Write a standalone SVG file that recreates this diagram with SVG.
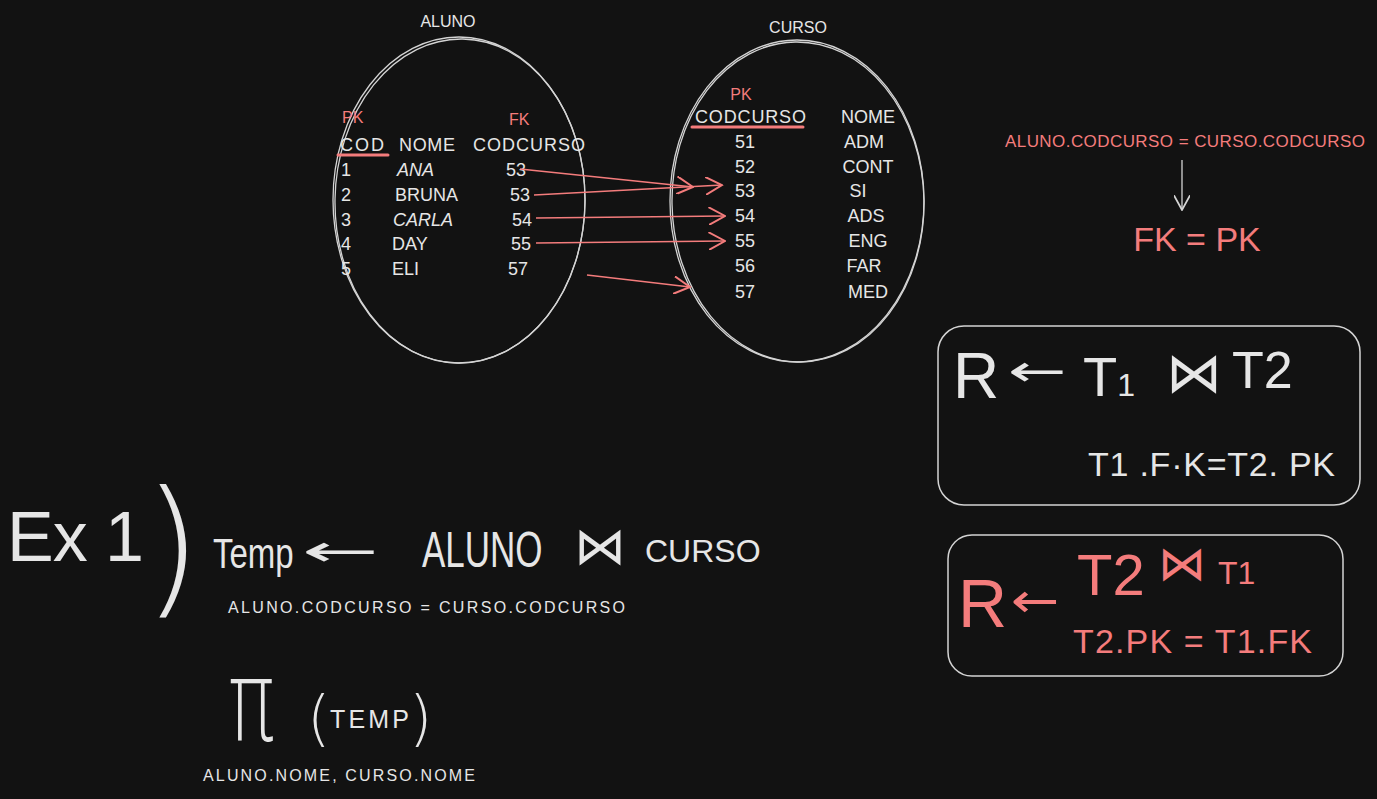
<svg xmlns="http://www.w3.org/2000/svg" width="1377" height="799" viewBox="0 0 1377 799">
<defs>
<style>
.w{fill:#e6e6e6;font-family:"Liberation Sans",Arial,sans-serif}
.r{fill:#f47c7c;font-family:"Liberation Sans",Arial,sans-serif}
.dj{font-family:"DejaVu Sans",sans-serif}
.lt{font-weight:200}
.t18{font-size:18px}
.t16{font-size:16px}
.sk{fill:none;stroke:#d4d4d4;stroke-width:1.3}
.box{fill:none;stroke:#d4d4d4;stroke-width:1.5}
.ra{fill:none;stroke:#f47c7c;stroke-width:1.4}
</style>
<marker id="ah" viewBox="0 0 12 12" refX="11" refY="6" markerWidth="18" markerHeight="18" markerUnits="userSpaceOnUse" orient="auto">
<path d="M0,0 L11,6 L0,12" fill="none" stroke="#f47c7c" stroke-width="1.3"/>
</marker>
<marker id="ahw" viewBox="0 0 12 12" refX="11" refY="6" markerWidth="16" markerHeight="16" markerUnits="userSpaceOnUse" orient="auto">
<path d="M0,0 L11,6 L0,12" fill="none" stroke="#d4d4d4" stroke-width="1.3"/>
</marker>
</defs>
<rect width="1377" height="799" fill="#121212"/>

<g id="aluno">
<ellipse class="sk" cx="459" cy="200" rx="126" ry="163"/>
<ellipse class="sk" cx="460" cy="201" rx="125" ry="162" transform="rotate(1 460 201)"/>
<text class="w t16" x="448" y="27" text-anchor="middle">ALUNO</text>
<text class="r t16" x="342" y="123">PK</text>
<text class="r t16" x="509" y="125">FK</text>
<text class="w t18" x="340" y="151" textLength="44">COD</text>
<line x1="338" y1="155" x2="388" y2="155" stroke="#f47c7c" stroke-width="3" stroke-linecap="round"/>
<text class="w t18" x="399" y="151" textLength="56">NOME</text>
<text class="w t18" x="473" y="151" textLength="112">CODCURSO</text>
<text class="w t18" x="341" y="176">1</text>
<text class="w t18" x="397" y="176" font-style="italic">ANA</text>
<text class="w t18" x="506" y="176">53</text>
<text class="w t18" x="341" y="201">2</text>
<text class="w t18" x="395" y="201">BRUNA</text>
<text class="w t18" x="510" y="201">53</text>
<text class="w t18" x="341" y="226">3</text>
<text class="w t18" x="393" y="226" font-style="italic">CARLA</text>
<text class="w t18" x="512" y="226">54</text>
<text class="w t18" x="341" y="250">4</text>
<text class="w t18" x="392" y="250">DAY</text>
<text class="w t18" x="511" y="250">55</text>
<text class="w t18" x="341" y="275">5</text>
<text class="w t18" x="392" y="275">ELI</text>
<text class="w t18" x="508" y="275">57</text>
</g>

<g id="curso">
<ellipse class="sk" cx="797" cy="201" rx="127" ry="161"/>
<ellipse class="sk" cx="798" cy="202" rx="126" ry="160" transform="rotate(-1 798 202)"/>
<text class="w t16" x="798" y="33" text-anchor="middle">CURSO</text>
<text class="r t16" x="741" y="100" text-anchor="middle">PK</text>
<text class="w t18" x="695" y="123" textLength="111">CODCURSO</text>
<line x1="692" y1="127" x2="803" y2="127" stroke="#f47c7c" stroke-width="3" stroke-linecap="round"/>
<text class="w t18" x="868" y="123" text-anchor="middle">NOME</text>
<text class="w t18" x="745" y="148" text-anchor="middle">51</text>
<text class="w t18" x="745" y="173" text-anchor="middle">52</text>
<text class="w t18" x="745" y="197" text-anchor="middle">53</text>
<text class="w t18" x="745" y="222" text-anchor="middle">54</text>
<text class="w t18" x="745" y="247" text-anchor="middle">55</text>
<text class="w t18" x="745" y="272" text-anchor="middle">56</text>
<text class="w t18" x="745" y="298" text-anchor="middle">57</text>
<text class="w t18" x="864" y="148" text-anchor="middle">ADM</text>
<text class="w t18" x="868" y="173" text-anchor="middle">CONT</text>
<text class="w t18" x="858" y="197" text-anchor="middle">SI</text>
<text class="w t18" x="866" y="222" text-anchor="middle">ADS</text>
<text class="w t18" x="868" y="247" text-anchor="middle">ENG</text>
<text class="w t18" x="864" y="272" text-anchor="middle">FAR</text>
<text class="w t18" x="868" y="298" text-anchor="middle">MED</text>
</g>

<g id="connectors">
<line class="ra" x1="520" y1="169" x2="693" y2="187" marker-end="url(#ah)"/>
<line class="ra" x1="534" y1="195" x2="722" y2="185" marker-end="url(#ah)"/>
<line class="ra" x1="536" y1="218" x2="725" y2="216" marker-end="url(#ah)"/>
<line class="ra" x1="536" y1="243" x2="725" y2="241" marker-end="url(#ah)"/>
<line class="ra" x1="587" y1="275" x2="690" y2="287" marker-end="url(#ah)"/>
<line x1="1182" y1="160" x2="1182" y2="210" stroke="#d4d4d4" stroke-width="1.3" marker-end="url(#ahw)"/>
</g>

<g id="formula">
<text class="r" x="1005" y="147" font-size="17" textLength="360">ALUNO.CODCURSO = CURSO.CODCURSO</text>
<text class="r" x="1197" y="251" font-size="34" text-anchor="middle">FK = PK</text>
</g>

<g id="box1">
<rect class="box" x="938" y="326" width="422" height="179" rx="26"/>
<text class="w" x="953" y="398" font-size="64">R</text>
<text class="w dj" font-size="40" transform="translate(1008,386) scale(1.75,1.1)">←</text>
<text class="w" x="1083" y="396" font-size="56">T<tspan font-size="32">1</tspan></text>
<text class="w dj" x="1166" y="392" font-size="56">⋈</text>
<text class="w" x="1232" y="388" font-size="52">T2</text>
<text class="w" x="1088" y="476" font-size="34" textLength="247">T1 .F·K=T2. PK</text>
</g>

<g id="box2">
<rect class="box" x="948" y="535" width="395" height="141" rx="24"/>
<text class="r" x="958" y="627" font-size="68">R</text>
<text class="r dj" font-size="40" transform="translate(1011,617) scale(1.45,1.2)">←</text>
<text class="r" x="1077" y="595" font-size="58">T2</text>
<text class="r dj" x="1158" y="580" font-size="48">⋈</text>
<text class="r" x="1218" y="584" font-size="32">T1</text>
<text class="r" x="1073" y="653" font-size="34" textLength="239">T2.PK = T1.FK</text>
</g>

<g id="ex1">
<text class="w" x="7" y="561" font-size="70" textLength="137">Ex 1</text>
<text class="w dj lt" x="143" y="598" font-size="150">)</text>
<text class="w" font-size="33" transform="translate(213,568) scale(1,1.3)">Temp</text>
<text class="w dj" font-size="40" transform="translate(302,566) scale(2.3,1.1)">←</text>
<text class="w" font-size="35" transform="translate(422,567) scale(1,1.45)">ALUNO</text>
<text class="w dj" x="574" y="564" font-size="52">⋈</text>
<text class="w" x="645" y="562" font-size="32">CURSO</text>
<text class="w t16" x="228" y="613" textLength="397">ALUNO.CODCURSO = CURSO.CODCURSO</text>
</g>

<g id="projecao">
<text class="w dj lt" font-size="60" transform="translate(228,740) scale(1.3,1.88)">π</text>
<text class="w dj lt" x="307" y="739" font-size="60">(</text>
<text class="w" x="330" y="728" font-size="25" textLength="79">TEMP</text>
<text class="w dj lt" x="409" y="739" font-size="60">)</text>
<text class="w t16" x="203" y="781" textLength="272">ALUNO.NOME, CURSO.NOME</text>
</g>
</svg>
